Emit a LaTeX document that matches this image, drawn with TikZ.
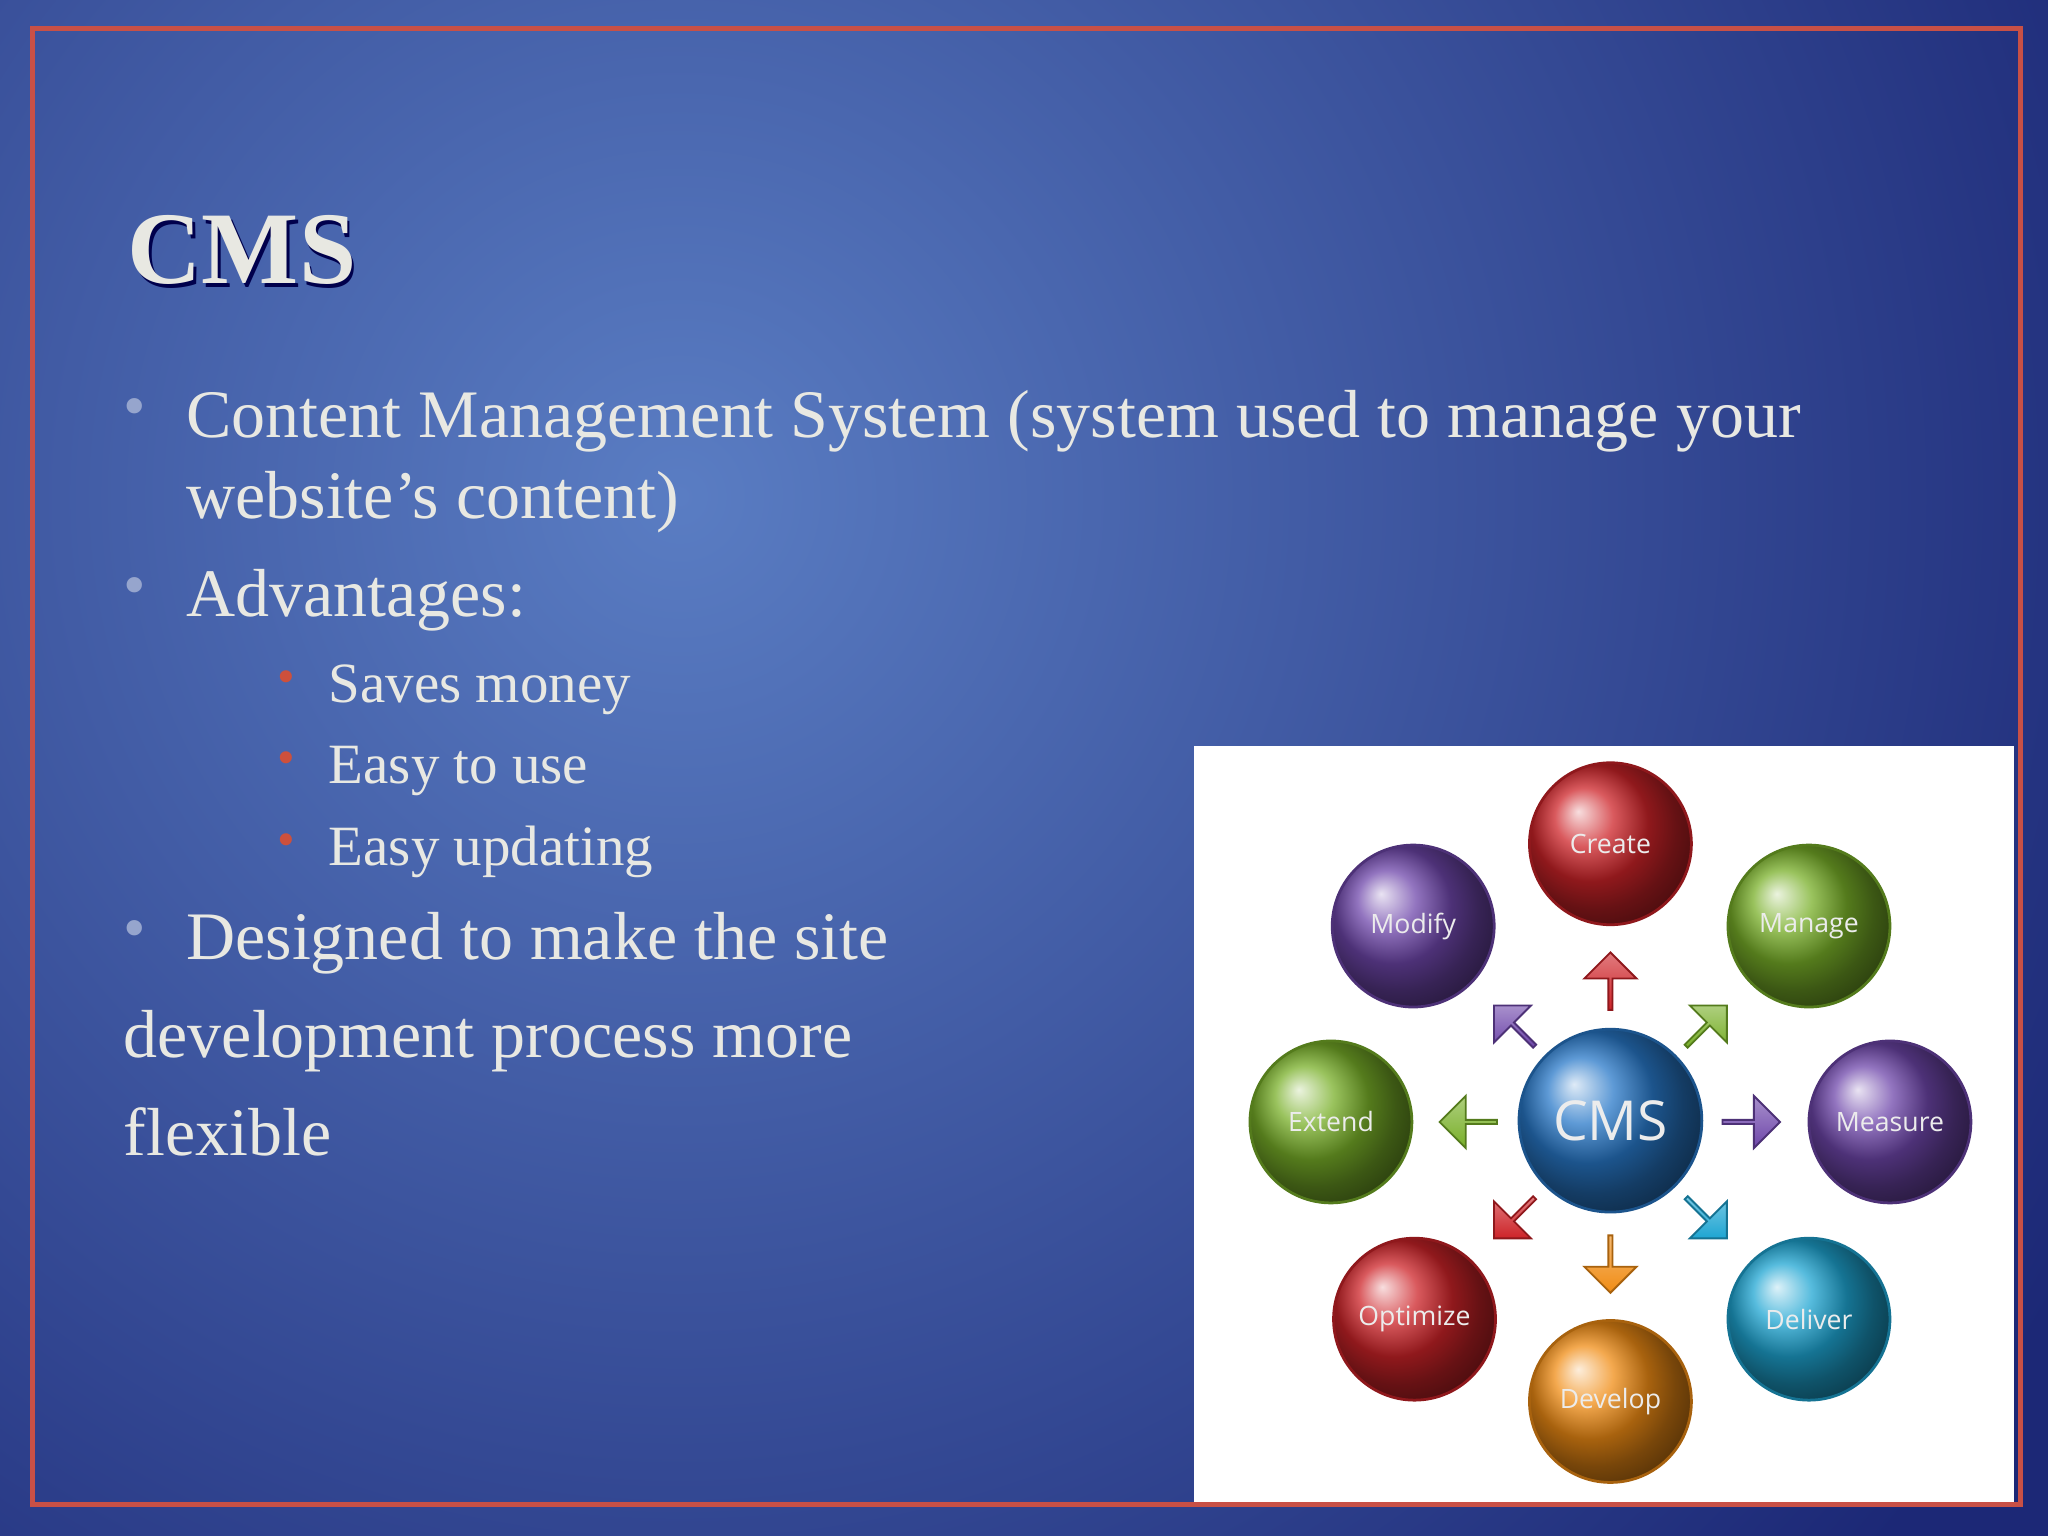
\documentclass[tikz,border=0pt]{standalone}
\usepackage{fontspec}
\setmainfont{Liberation Serif}
\newfontfamily\ballfont{Open Sans}
\usetikzlibrary{shapes.arrows}
\definecolor{bgin}{RGB}{90,125,195}
\definecolor{bgout}{RGB}{28,40,118}
\definecolor{frame}{RGB}{200,80,70}
\definecolor{txt}{RGB}{232,232,226}
\definecolor{bul}{RGB}{150,165,205}
\definecolor{rbul}{RGB}{205,80,60}
\definecolor{cred}{RGB}{205,35,40}
\definecolor{cgreen}{RGB}{120,175,40}
\definecolor{cpurple}{RGB}{110,70,170}
\definecolor{cblue}{RGB}{40,120,200}
\definecolor{ccyan}{RGB}{30,165,210}
\definecolor{corange}{RGB}{240,140,20}
\newlength{\un}\setlength{\un}{0.01cm}
\tikzset{
 ball/.style={circle,minimum size=124\un,inner sep=0pt,ball color=#1,draw=#1!70!black,line width=0.6pt,
   font=\ballfont\fontsize{5.8}{6}\selectfont,text=white!85!gray},
 arr/.style={single arrow,single arrow head extend=8\un,minimum height=44\un,minimum width=40\un,inner sep=0pt,
   draw=#1!70!black,top color=#1!60!white,bottom color=#1,line width=0.4pt},
 btxt/.style={anchor=base west,inner sep=0pt,text=txt,font=\fontsize{14.8}{18}\selectfont},
 stxt/.style={anchor=base west,inner sep=0pt,text=txt,font=\fontsize{12.4}{15}\selectfont},
 dot/.style={inner sep=0pt,text=bul,font=\fontsize{14}{14}\selectfont},
 rdot/.style={inner sep=0pt,text=rbul,font=\fontsize{11}{11}\selectfont},
}
\begin{document}
\begin{tikzpicture}[x=0.01cm,y=-0.01cm]
\useasboundingbox (0,0) rectangle (1568,1176);
\begin{scope}
\clip (0,0) rectangle (1568,1176);
\shade[inner color=bgin,outer color=bgout] (-700,-840) rectangle (1740,1600);
\end{scope}
\draw[frame,line width=1.2pt] (25,22) rectangle (1547,1152);
\node[anchor=base west,inner sep=0pt,text=black!70!blue,font=\bfseries\fontsize{22.4}{26}\selectfont] (titles) at (99,220) {CMS};
\node[anchor=base west,inner sep=0pt,text=txt,font=\bfseries\fontsize{22.4}{26}\selectfont] (title) at (97,217) {CMS};
\node[dot] (b1) at (103,316) {•};
\node[btxt] (t1) at (142,335) {Content Management System (system used to manage your};
\node[btxt] (t1b) at (142,397) {website's content)};
\node[dot] (b2) at (103,453) {•};
\node[btxt] (t2) at (142,472) {Advantages:};
\node[rdot] (s1) at (219,522) {•};
\node[stxt] (u1) at (251,538) {Saves money};
\node[rdot] (s2) at (219,584) {•};
\node[stxt] (u2) at (251,600) {Easy to use};
\node[rdot] (s3) at (219,647) {•};
\node[stxt] (u3) at (251,663) {Easy updating};
\node[dot] (b3) at (103,716) {•};
\node[btxt] (t3) at (142,735) {Designed to make the site};
\node[btxt] (t3b) at (94,810) {development process more};
\node[btxt] (t3c) at (94,885) {flexible};
% image
\fill[white] (914,571) rectangle (1542,1150);
\node[arr=cred,rotate=90] (a1) at (1233,752) {};
\node[arr=cgreen,rotate=45] (a2) at (1306,786) {};
\node[arr=cpurple] (a3) at (1340,859) {};
\node[arr=ccyan,rotate=-45] (a4) at (1306,932) {};
\node[arr=corange,rotate=-90] (a5) at (1233,967) {};
\node[arr=cred,rotate=-135] (a6) at (1160,932) {};
\node[arr=cgreen,rotate=180] (a7) at (1125,859) {};
\node[arr=cpurple,rotate=135] (a8) at (1160,786) {};
\node[ball=cblue,minimum size=140\un,font=\ballfont\fontsize{12}{12}\selectfont] (cms) at (1233,858) {CMS};
\node[ball=cred] (create) at (1233,646) {Create};
\node[ball=cgreen] (manage) at (1385,709) {Manage};
\node[ball=cpurple] (measure) at (1447,859) {Measure};
\node[ball=ccyan] (deliver) at (1385,1010) {Deliver};
\node[ball=corange] (develop) at (1233,1073) {Develop};
\node[ball=cred] (optimize) at (1083,1010) {Optimize};
\node[ball=cgreen] (extend) at (1019,859) {Extend};
\node[ball=cpurple] (modify) at (1082,709) {Modify};
\end{tikzpicture}
\end{document}
